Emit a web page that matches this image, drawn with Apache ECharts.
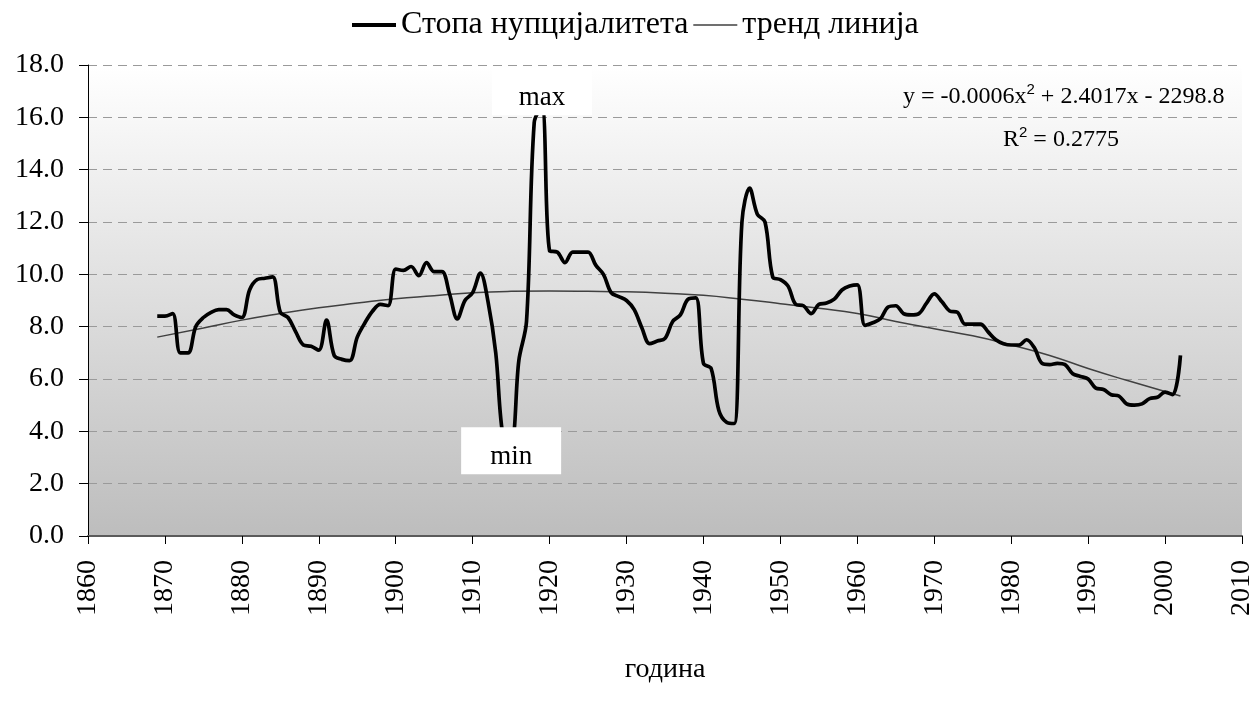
<!DOCTYPE html>
<html>
<head>
<meta charset="utf-8">
<script src="https://cdn.jsdelivr.net/npm/echarts@6/dist/echarts.min.js"></script>
<style>html,body{margin:0;padding:0;background:#fff}#c{width:1256px;height:706px}</style>
</head>
<body>
<div id="c"></div>
<script>
const years = [1869,1870,1871,1872,1873,1874,1875,1876,1877,1878,1879,1880,1881,1882,1883,1884,1885,1886,1887,1888,1889,
1890,1891,1892,1893,1894,1895,1896,1897,1898,1899,1900,1901,1902,1903,1904,1905,1906,1907,1908,1909,
1910,1911,1912,1913,1914,1915,1916,1917,1918,1919,1920,1921,1922,1923,1924,1925,1926,1927,1928,1929,
1930,1931,1932,1933,1934,1935,1936,1937,1938,1939,1940,1941,1942,1943,1944,1945,1946,1947,1948,1949,
1950,1951,1952,1953,1954,1955,1956,1957,1958,1959,1960,1961,1962,1963,1964,1965,1966,1967,1968,1969,
1970,1971,1972,1973,1974,1975,1976,1977,1978,1979,1980,1981,1982,1983,1984,1985,1986,1987,1988,1989,
1990,1991,1992,1993,1994,1995,1996,1997,1998,1999,2000,2001,2002];
const rate = [8.4,8.4,8.5,7.0,7.0,8.0,8.35,8.55,8.65,8.65,8.45,8.35,9.4,9.8,9.85,9.9,8.55,8.35,7.8,7.3,7.25,
7.1,8.25,6.9,6.75,6.7,7.6,8.15,8.6,8.85,8.8,10.2,10.15,10.3,9.95,10.45,10.1,10.1,9.25,8.3,9.0,
9.3,10.05,8.95,7.0,3.7,3.6,6.7,8.2,15.8,16.4,10.9,10.85,10.45,10.85,10.85,10.85,10.35,10.0,9.3,9.15,
9.0,8.65,7.95,7.35,7.45,7.55,8.2,8.45,9.05,9.1,6.6,6.4,4.8,4.35,4.3,12.0,13.3,12.3,12.0,9.9,
9.8,9.55,8.85,8.8,8.5,8.85,8.9,9.05,9.4,9.55,9.6,8.05,8.15,8.3,8.75,8.8,8.5,8.45,8.5,8.9,
9.25,8.95,8.6,8.55,8.1,8.1,8.1,7.8,7.5,7.35,7.3,7.3,7.5,7.2,6.6,6.55,6.6,6.55,6.2,6.1,
6.0,5.65,5.6,5.4,5.35,5.05,5.0,5.05,5.25,5.3,5.5,5.4,6.9];
const trendYears = [1869,1875,1880,1885,1890,1895,1900,1905,1910,1915,1920,1925,1930,1935,1940,1945,1950,1955,1960,1965,1970,1975,1980,1985,1990,1995,2002];
const trendValues = [7.6,7.95,8.25,8.5,8.72,8.9,9.07,9.18,9.3,9.35,9.36,9.35,9.33,9.28,9.2,9.05,8.88,8.7,8.5,8.2,7.92,7.65,7.3,6.9,6.4,5.95,5.35];
const seriesNames = ['Стопа нупцијалитета', 'тренд линија'];
const xName = 'година';
const eqText = 'y = -0.0006x{sup|2} + 2.4017x - 2298.8';
const r2Text = 'R{sup|2} = 0.2775';

const FONT = "'Liberation Serif','Times New Roman',serif";
const chart = echarts.init(document.getElementById('c'));
const supStyle = {sup: {fontSize: 15, verticalAlign: 'top', padding: [0, 0, 14, 0]}};
const boxRich = {t: {fontFamily: FONT, fontSize: 27, color: '#000', lineHeight: 60, width: 100, align: 'center'}};
chart.setOption({
  animation: false,
  textStyle: {fontFamily: FONT, color: '#000'},
  legend: {
    left: 345, top: 4,
    itemWidth: 44, itemHeight: 14, itemGap: 4,
    textStyle: {fontFamily: FONT, fontSize: 32, color: '#000'},
    itemStyle: {opacity: 0},
    data: [
      {name: seriesNames[0], lineStyle: {width: 4, color: '#000'}, itemStyle: {opacity: 0}},
      {name: seriesNames[1], lineStyle: {width: 1.5, color: '#404040'}, itemStyle: {opacity: 0}}
    ]
  },
  grid: {
    left: 88, right: 13, top: 65, bottom: 170,
    show: true, borderWidth: 0,
    backgroundColor: {type: 'linear', x: 0, y: 0, x2: 0, y2: 1,
      colorStops: [{offset: 0, color: '#ffffff'}, {offset: 1, color: '#bdbdbd'}]}
  },
  xAxis: {
    type: 'value', min: 1860, max: 2010, interval: 10,
    name: xName, nameLocation: 'middle', nameGap: 120,
    nameTextStyle: {fontFamily: FONT, fontSize: 28, color: '#000'},
    axisLine: {show: true, onZero: false, lineStyle: {color: '#5a5a5a', width: 2}},
    axisTick: {show: true, length: 8, lineStyle: {color: '#000'}},
    axisLabel: {rotate: 90, margin: 24, fontFamily: FONT, fontSize: 28, color: '#000',
      formatter: v => String(v)},
    splitLine: {show: false}
  },
  yAxis: {
    type: 'value', min: 0, max: 18, interval: 2,
    axisLine: {show: true, lineStyle: {color: '#000', width: 1}},
    axisTick: {show: true, length: 9, lineStyle: {color: '#000'}},
    axisLabel: {margin: 24, fontFamily: FONT, fontSize: 28, color: '#000',
      formatter: v => v.toFixed(1)},
    splitLine: {show: true, lineStyle: {color: '#9a9a9a', type: [9, 6], width: 1}}
  },
  graphic: [{
    type: 'group', left: 903, top: 82,
    children: [
      {type: 'text', left: 0, top: 0, style: {text: eqText, font: "24px " + FONT, fill: '#000', rich: supStyle}},
      {type: 'text', left: 100, top: 43, style: {text: r2Text, font: "24px " + FONT, fill: '#000', rich: supStyle}}
    ]
  }],
  series: [
    {
      name: seriesNames[0], type: 'line', showSymbol: false, symbol: 'none',
      smooth: 0.35, z: 3, color: '#000',
      data: years.map((y, i) => [y, rate[i]]),
      lineStyle: {color: '#000', width: 3.7},
      markPoint: {
        symbol: 'rect', symbolSize: 0, silent: true,
        label: {show: true, position: 'inside', backgroundColor: '#fff', width: 100, height: 47,
          align: 'center', verticalAlign: 'middle', rich: boxRich},
        data: [
          {type: 'max', label: {formatter: '{t|max}', offset: [0, -15]}},
          {type: 'min', label: {formatter: '{t|min}', offset: [0, 9]}}
        ]
      }
    },
    {
      name: seriesNames[1], type: 'line', showSymbol: false, symbol: 'none',
      smooth: true, z: 2, color: '#404040',
      data: trendYears.map((y, i) => [y, trendValues[i]]),
      lineStyle: {color: '#404040', width: 1.5}
    }
  ]
});
</script>
</body>
</html>
